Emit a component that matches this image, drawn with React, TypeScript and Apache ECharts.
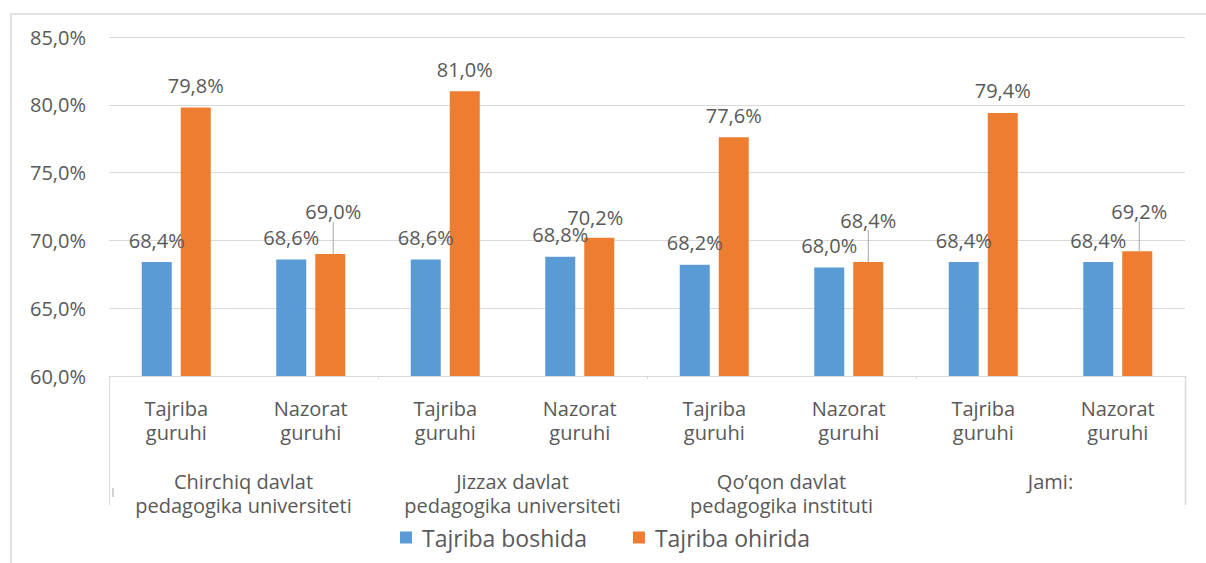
import React, { useEffect, useRef } from "react";
import * as echarts from "echarts";

const categories = [
  "Tajriba\nguruhi", "Nazorat\nguruhi",
  "Tajriba\nguruhi", "Nazorat\nguruhi",
  "Tajriba\nguruhi", "Nazorat\nguruhi",
  "Tajriba\nguruhi", "Nazorat\nguruhi",
];
const groups = [
  "Chirchiq davlat\npedagogika universiteti",
  "Jizzax davlat\npedagogika universiteti",
  "Qo’qon davlat\npedagogika instituti",
  "Jami:",
];
const seriesNames = ["Tajriba boshida", "Tajriba ohirida"];
const boshida = [68.4, 68.6, 68.6, 68.8, 68.2, 68.0, 68.4, 68.4];
const ohirida = [79.8, 69.0, 81.0, 70.2, 77.6, 68.4, 79.4, 69.2];
const yTicks = { min: 60, max: 85, interval: 5 };

// label displacement (style) for the orange series labels; leader line where moved far
const ohiridaLabelShift: [number, number][] = [
  [0, 0], [3, -20], [0, 0], [-4, 2], [0, 0], [0, -20], [0, 0], [2, -18],
];
const ohiridaLeader = [false, true, false, false, false, true, false, true];

const FONT = "'Open Sans', sans-serif";
const TXT = "#595959";
const GRID = "#d9d9d9";
const GL = 109, GR = 1185, GT = 37, GB = 376;

const fmt = (v: number) => v.toFixed(1).replace(".", ",") + "%";

export default function App() {
  const ref = useRef<HTMLDivElement>(null);
  useEffect(() => {
    document.body.style.margin = "0";
    const chart = echarts.init(ref.current!, undefined, { renderer: "svg" });
    chart.setOption({
      animation: false,
      backgroundColor: "#ffffff",
      textStyle: { fontFamily: FONT, color: TXT },
      grid: { left: GL, right: 1206 - GR, top: GT, bottom: 563 - GB, containLabel: false },
      legend: {
        data: seriesNames,
        left: 395,
        top: 521,
        icon: "rect",
        itemWidth: 12,
        itemHeight: 12,
        itemGap: 46,
        itemStyle: { borderWidth: 0 },
        textStyle: { fontFamily: FONT, fontSize: 23, color: TXT, padding: [0, 0, 0, 5] },
      },
      xAxis: [
        {
          type: "category",
          data: categories,
          position: "bottom",
          axisLine: { show: true, lineStyle: { color: GRID, width: 1 } },
          axisTick: { show: false },
          axisLabel: {
            interval: 0,
            margin: 20,
            fontFamily: FONT,
            fontSize: 20,
            lineHeight: 24,
            color: TXT,
            align: "center",
          },
        },
        {
          type: "category",
          data: groups,
          position: "bottom",
          offset: 0,
          axisLine: { show: false },
          axisTick: { show: true, length: 3, lineStyle: { color: GRID } },
          axisLabel: {
            interval: 0,
            margin: 93,
            fontFamily: FONT,
            fontSize: 20,
            lineHeight: 24,
            color: TXT,
            align: "center",
          },
        },
      ],
      yAxis: {
        type: "value",
        min: yTicks.min,
        max: yTicks.max,
        interval: yTicks.interval,
        axisLine: { show: false },
        axisTick: { show: false },
        splitLine: { lineStyle: { color: GRID, width: 1.2 } },
        axisLabel: {
          margin: 23,
          fontFamily: FONT,
          fontSize: 20,
          color: TXT,
          formatter: (v: number) => fmt(v),
        },
      },
      series: [
        {
          name: seriesNames[0],
          type: "bar",
          xAxisIndex: 0,
          data: boshida,
          barWidth: 30,
          barGap: "30%",
          itemStyle: { color: "#5B9BD5" },
          label: {
            show: true,
            position: "top",
            distance: 12,
            fontFamily: FONT,
            fontSize: 20,
            color: TXT,
            formatter: (p: any) => fmt(p.value),
          },
        },
        {
          name: seriesNames[1],
          type: "bar",
          xAxisIndex: 0,
          data: ohirida.map((v, i) => ({ value: v, labelLine: { show: ohiridaLeader[i] } })),
          barWidth: 30,
          barGap: "30%",
          itemStyle: { color: "#ED7D31" },
          label: {
            show: true,
            position: "top",
            distance: 12,
            fontFamily: FONT,
            fontSize: 20,
            color: TXT,
            formatter: (p: any) => fmt(p.value),
          },
          labelLine: {
            show: false,
            lineStyle: { color: "#a6a6a6", width: 1 },
          },
          labelLayout: (params: any) => {
            const s = ohiridaLabelShift[params.dataIndex] || [0, 0];
            return { dx: s[0], dy: s[1] };
          },
        },
      ],
      graphic: [
        {
          type: "rect",
          silent: true,
          shape: { x: 11, y: 14, width: 1400, height: 800 },
          style: { fill: "none", stroke: "#d9d9d9", lineWidth: 1.5 },
        },
        {
          type: "line",
          silent: true,
          shape: { x1: GL + 0.5, y1: GB, x2: GL + 0.5, y2: 505 },
          style: { stroke: GRID, lineWidth: 1 },
        },
        {
          type: "line",
          silent: true,
          shape: { x1: GR + 0.5, y1: GB, x2: GR + 0.5, y2: 505 },
          style: { stroke: GRID, lineWidth: 1.5 },
        },
        {
          type: "line",
          silent: true,
          shape: { x1: 113, y1: 488, x2: 113, y2: 497 },
          style: { stroke: "#a6a6a6", lineWidth: 1 },
        },
      ],
    });
    return () => chart.dispose();
  }, []);
  return <div ref={ref} style={{ width: 1206, height: 563 }} />;
}
